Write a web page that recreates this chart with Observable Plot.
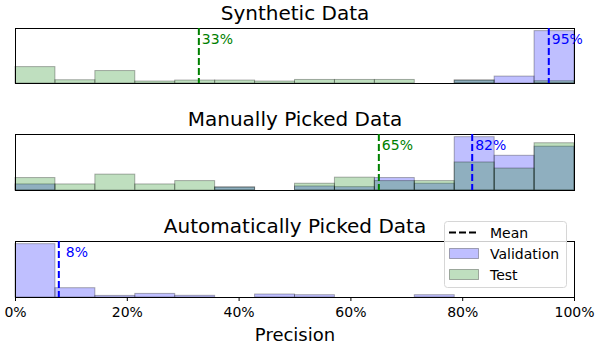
<!DOCTYPE html>
<html><head><meta charset="utf-8">
<script src="https://cdn.jsdelivr.net/npm/d3@7"></script>
<script src="https://cdn.jsdelivr.net/npm/@observablehq/plot@0.6"></script>
<style>
body{margin:0;background:#fff;}
#c{position:relative;width:598px;height:348px;font-family:"DejaVu Sans",sans-serif;overflow:hidden;}
#c > svg{position:absolute;left:0;}
#legend{position:absolute;left:444px;top:221px;width:123px;height:67px;}
</style></head><body><div id="c"></div>
<script>
const binCount = 14;
const panelTitles = ["Synthetic Data", "Manually Picked Data", "Automatically Picked Data"];
const xTicks = [0, 20, 40, 60, 80, 100];
const xLabel = "Precision";
const legendLabels = ["Mean", "Validation", "Test"];

// bar heights per bin (relative)
const synthVal   = [0, 0, 0, 0, 0, 0, 0, 0, 0, 0, 0, 3, 7, 53];
const synthTest  = [16.6, 3.3, 12.6, 2, 3, 3, 2, 3.6, 3.6, 3.6, 0, 3, 0, 2.3];
const manualVal  = [6, 0, 0, 0, 0, 3, 0, 4, 3.3, 12.3, 6.7, 52.7, 34.3, 43.3];
const manualTest = [12.3, 6, 15.7, 6, 9.3, 3, 0, 6.7, 12.7, 9.3, 9.3, 27.7, 21.7, 46.7];
const autoVal    = [53.3, 9.3, 1.6, 3.6, 1.7, 0, 3, 2.3, 0, 0, 2.3, 0, 0, 0];
const autoTest   = [0, 0, 0, 0, 0, 0, 0, 0, 0, 0, 0, 0, 0, 0];

// means (%)
const synthMeans  = [95.4, 32.8];  // [validation, test]
const manualMeans = [81.7, 65.0];
const autoMeans   = [7.75, null];

const VAL = "#0000ff", TEST = "#008000";
const container = document.getElementById("c");

function panel({title, val, test, means, top, height, marginTop, marginBottom, showAxis, valDx = 3}) {
  const rows = d3.range(binCount).map(i => ({x1: i * 100 / binCount, x2: (i + 1) * 100 / binCount, val: val[i], test: test[i]}));
  const ymax = d3.max([...val, ...test]) * 1.05;
  const marks = [
    Plot.rectY(rows.filter(d => d.val > 0), {x1: "x1", x2: "x2", y: "val", fill: VAL, fillOpacity: 0.25, stroke: "#000", strokeOpacity: 0.3}),
    Plot.rectY(rows.filter(d => d.test > 0), {x1: "x1", x2: "x2", y: "test", fill: TEST, fillOpacity: 0.25, stroke: "#000", strokeOpacity: 0.3}),
    Plot.frame({stroke: "#000", strokeWidth: 1})
  ];
  const [vm, tm] = means;
  if (tm != null) {
    marks.push(Plot.ruleX([tm], {stroke: TEST, strokeWidth: 2, strokeDasharray: "7,3"}));
    marks.push(Plot.text([tm], {x: d => d, text: d => Math.round(d) + "%", frameAnchor: "top", lineAnchor: "top", textAnchor: "start", dx: 3, dy: 6, fill: TEST, fontSize: 14}));
  }
  if (vm != null) {
    marks.push(Plot.ruleX([vm], {stroke: VAL, strokeWidth: 2, strokeDasharray: "7,3"}));
    marks.push(Plot.text([vm], {x: d => d, text: d => Math.round(d) + "%", frameAnchor: "top", lineAnchor: "top", textAnchor: "start", dx: valDx, dy: 6, fill: VAL, fontSize: 14}));
  }
  marks.push(Plot.text([title], {text: d => d, frameAnchor: "top", lineAnchor: "bottom", dy: -8.5, fontSize: 20, fill: "#000"}));
  if (showAxis) {
    marks.push(Plot.text([xLabel], {text: d => d, frameAnchor: "bottom", lineAnchor: "bottom", dy: 43, fontSize: 18, fill: "#000"}));
  }
  const chart = Plot.plot({
    width: 598, height,
    marginLeft: 15, marginRight: 24, marginTop, marginBottom,
    style: {fontFamily: "DejaVu Sans", fontSize: "14px", background: "transparent", color: "#000", overflow: "visible"},
    x: {domain: [0, 100], axis: showAxis ? "bottom" : null, ticks: xTicks, tickFormat: d => d + "%", tickSize: 4, tickPadding: 6, label: null},
    y: {domain: [0, ymax], axis: null},
    marks
  });
  chart.style.top = top + "px";
  container.appendChild(chart);
}

panel({title: panelTitles[0], val: synthVal, test: synthTest, means: synthMeans, top: 0, height: 88, marginTop: 28, marginBottom: 5, showAxis: false});
panel({title: panelTitles[1], val: manualVal, test: manualTest, means: manualMeans, top: 88, height: 107, marginTop: 46, marginBottom: 5, showAxis: false});
panel({title: panelTitles[2], val: autoVal, test: autoTest, means: autoMeans, top: 195, height: 153, marginTop: 46, marginBottom: 51, showAxis: true, valDx: 7});

// legend
const lg = d3.select(container).append("div").attr("id", "legend")
  .append("svg").attr("width", 123).attr("height", 67).style("position", "absolute").style("left", 0).style("top", 0);
lg.append("rect").attr("x", 0.5).attr("y", 0.5).attr("width", 122).attr("height", 66).attr("rx", 3)
  .attr("fill", "rgba(255,255,255,0.8)").attr("stroke", "#d6d6d6");
lg.append("line").attr("x1", 5).attr("x2", 35).attr("y1", 11.5).attr("y2", 11.5)
  .attr("stroke", "#000").attr("stroke-width", 2).attr("stroke-dasharray", "7,3");
[[VAL, 27], [TEST, 48]].forEach(([c, y]) => {
  lg.append("rect").attr("x", 5.5).attr("y", y + 0.5).attr("width", 29).attr("height", 10)
    .attr("fill", c).attr("fill-opacity", 0.25).attr("stroke", "#000").attr("stroke-opacity", 0.3);
});
legendLabels.forEach((t, i) => {
  lg.append("text").attr("x", 46).attr("y", 16.5 + i * 21).attr("font-family", "DejaVu Sans").attr("font-size", 14).attr("fill", "#000").text(t);
});
</script></body></html>
